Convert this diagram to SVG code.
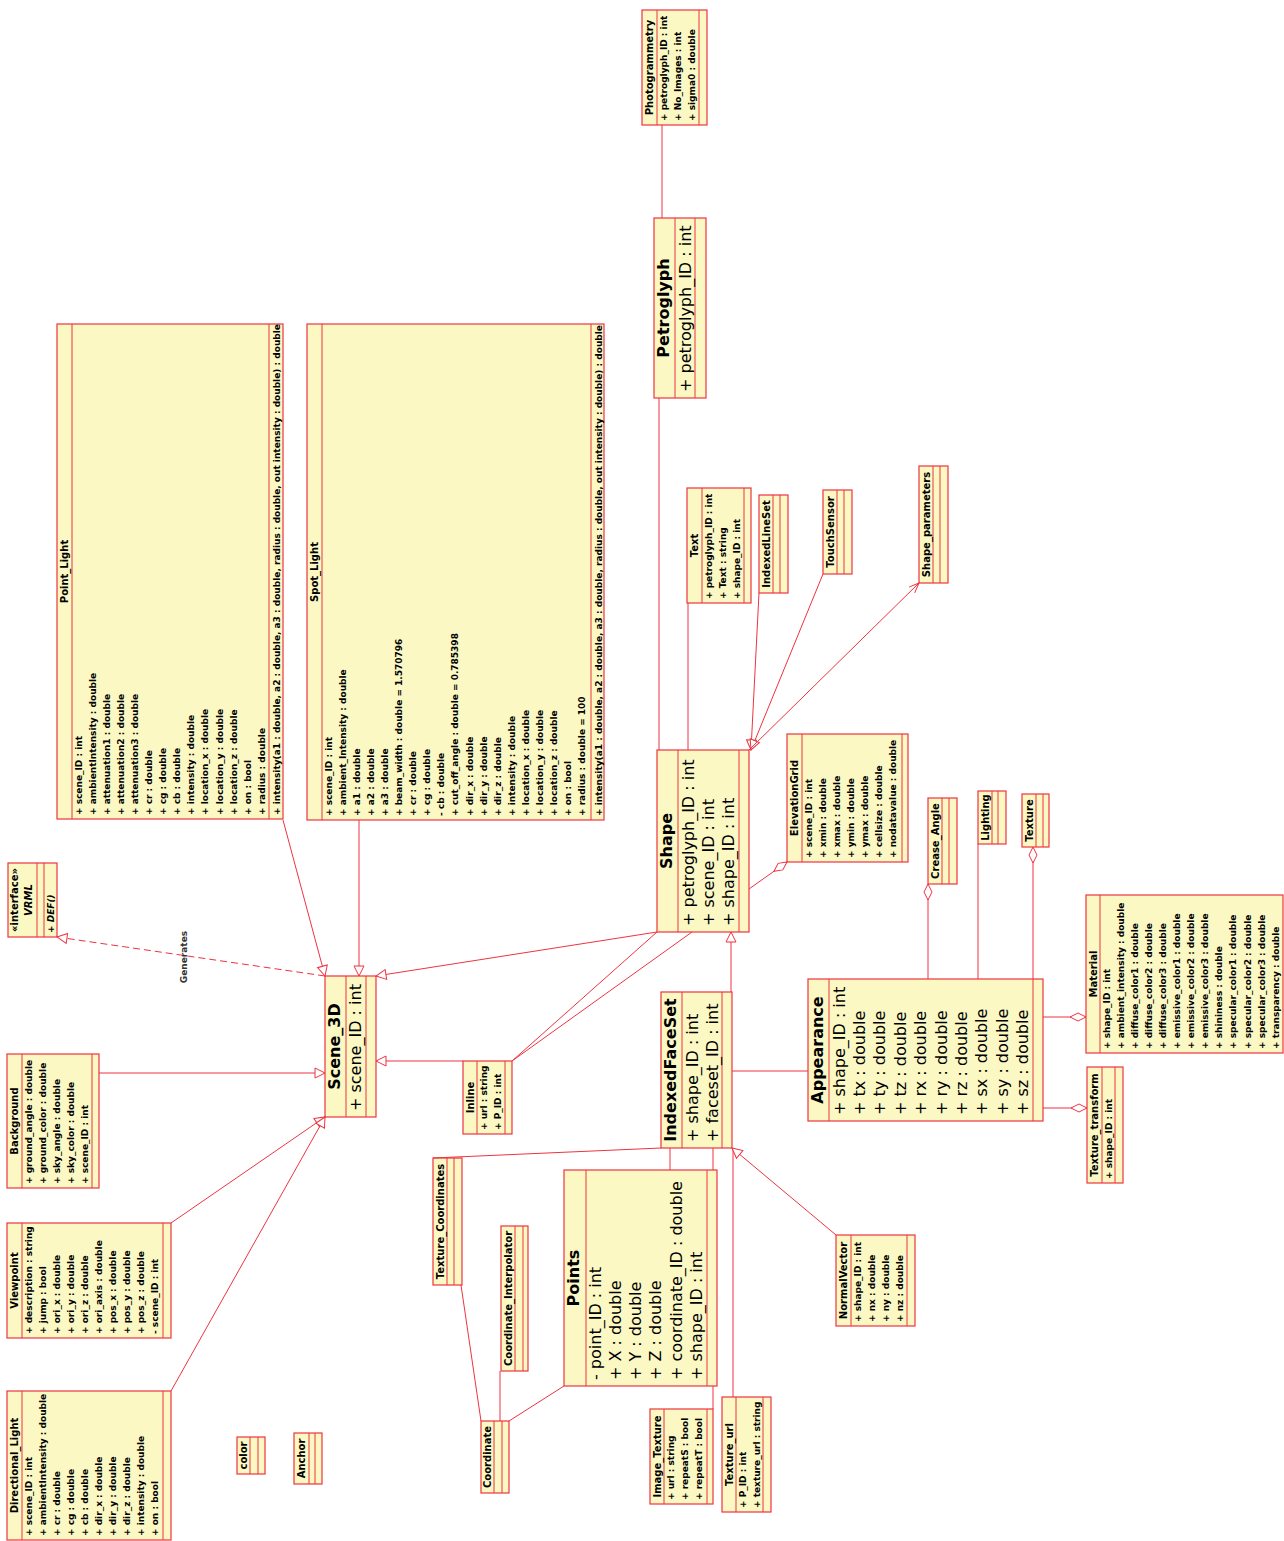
<svg xmlns="http://www.w3.org/2000/svg" width="1284" height="1541" viewBox="0 0 1284 1541">
<style>
.box{fill:#fbf8c4;stroke:#ee3340;stroke-width:1.2}
.div{stroke:#ee3340;stroke-width:1;fill:none}
.n{font-family:'DejaVu Sans',sans-serif;font-weight:bold;font-size:10px;text-anchor:middle;fill:#000}
.a{font-family:'DejaVu Sans',sans-serif;font-weight:bold;font-size:9px;fill:#000}
.N{font-family:'DejaVu Sans',sans-serif;font-weight:bold;font-size:16px;text-anchor:middle;fill:#000}
.A{font-family:'DejaVu Sans',sans-serif;font-size:16px;fill:#000}
.c{stroke:#ee3340;stroke-width:1;fill:none}
.dash{stroke-dasharray:7,4}
.lbl{font-family:'DejaVu Sans',sans-serif;font-weight:bold;font-size:9px;text-anchor:middle;fill:#333}
</style>
<defs>
<marker id="tri" viewBox="0 0 12 12" refX="11" refY="6" markerWidth="12" markerHeight="12" markerUnits="userSpaceOnUse" orient="auto"><path d="M1,1 L11,6 L1,11 z" fill="#fff" stroke="#ee3340" stroke-width="1"/></marker>
<marker id="dia" viewBox="0 0 18 10" refX="17" refY="5" markerWidth="18" markerHeight="10" markerUnits="userSpaceOnUse" orient="auto"><path d="M1,5 L9,1 L17,5 L9,9 z" fill="#fff" stroke="#ee3340" stroke-width="1"/></marker>
<marker id="arr" viewBox="0 0 12 10" refX="11" refY="5" markerWidth="12" markerHeight="10" markerUnits="userSpaceOnUse" orient="auto"><path d="M1,1 L11,5 L1,9" fill="none" stroke="#ee3340" stroke-width="1"/></marker>
</defs>
<rect width="1284" height="1541" fill="#fff"/>

<g id="nodes">
<g id="photogrammetry" transform="translate(642,125) rotate(-90)">
<rect class="box" width="115" height="65"/><path class="div" d="M0,15H115M0,57H115"/>
<text class="n" x="57.5" y="11">Photogrammetry</text>
<text class="a"><tspan x="4" y="24.5">+ petroglyph_ID : int</tspan><tspan x="4" dy="14.1">+ No_Images : int</tspan><tspan x="4" dy="14.1">+ sigma0 : double</tspan></text>
</g>
<g id="petroglyph" transform="translate(654,398) rotate(-90)">
<rect class="box" width="180" height="52"/><path class="div" d="M0,21H180M0,41H180"/>
<text class="N" x="90" y="15">Petroglyph</text>
<text class="A" x="6" y="36.5">+ petroglyph_ID : int</text>
</g>
<g id="point_light" transform="translate(57,819) rotate(-90)">
<rect class="box" width="495" height="226"/><path class="div" d="M0,15H495M0,212H495"/>
<text class="n" x="247.5" y="11">Point_Light</text>
<text class="a"><tspan x="4" y="24.5">+ scene_ID : int</tspan><tspan x="4" dy="14.1">+ ambientIntensity : double</tspan><tspan x="4" dy="14.1">+ attenuation1 : double</tspan><tspan x="4" dy="14.1">+ attenuation2 : double</tspan><tspan x="4" dy="14.1">+ attenuation3 : double</tspan><tspan x="4" dy="14.1">+ cr : double</tspan><tspan x="4" dy="14.1">+ cg : double</tspan><tspan x="4" dy="14.1">+ cb : double</tspan><tspan x="4" dy="14.1">+ intensity : double</tspan><tspan x="4" dy="14.1">+ location_x : double</tspan><tspan x="4" dy="14.1">+ location_y : double</tspan><tspan x="4" dy="14.1">+ location_z : double</tspan><tspan x="4" dy="14.1">+ on : bool</tspan><tspan x="4" dy="14.1">+ radius : double</tspan></text>
<text class="a" x="4" y="222.5">+ intensity(a1 : double, a2 : double, a3 : double, radius : double, out intensity : double) : double</text>
</g>
<g id="spot_light" transform="translate(307,820) rotate(-90)">
<rect class="box" width="496" height="297"/><path class="div" d="M0,15H496M0,284H496"/>
<text class="n" x="248" y="11">Spot_Light</text>
<text class="a"><tspan x="4" y="24.5">+ scene_ID : int</tspan><tspan x="4" dy="14.1">+ ambient_Intensity : double</tspan><tspan x="4" dy="14.1">+ a1 : double</tspan><tspan x="4" dy="14.1">+ a2 : double</tspan><tspan x="4" dy="14.1">+ a3 : double</tspan><tspan x="4" dy="14.1">+ beam_width : double = 1.570796</tspan><tspan x="4" dy="14.1">+ cr : double</tspan><tspan x="4" dy="14.1">+ cg : double</tspan><tspan x="4" dy="14.1">- cb : double</tspan><tspan x="4" dy="14.1">+ cut_off_angle : double = 0.785398</tspan><tspan x="4" dy="14.1">+ dir_x : double</tspan><tspan x="4" dy="14.1">+ dir_y : double</tspan><tspan x="4" dy="14.1">+ dir_z : double</tspan><tspan x="4" dy="14.1">+ intensity : double</tspan><tspan x="4" dy="14.1">+ location_x : double</tspan><tspan x="4" dy="14.1">+ location_y : double</tspan><tspan x="4" dy="14.1">+ location_z : double</tspan><tspan x="4" dy="14.1">+ on : bool</tspan><tspan x="4" dy="14.1">+ radius : double = 100</tspan></text>
<text class="a" x="4" y="294.5">+ intensity(a1 : double, a2 : double, a3 : double, radius : double, out intensity : double) : double</text>
</g>
<g id="text" transform="translate(687,603) rotate(-90)">
<rect class="box" width="115" height="64"/><path class="div" d="M0,15H115M0,57H115"/>
<text class="n" x="57.5" y="11">Text</text>
<text class="a"><tspan x="4" y="24.5">+ petroglyph_ID : int</tspan><tspan x="4" dy="14.1">+ Text : string</tspan><tspan x="4" dy="14.1">+ shape_ID : int</tspan></text>
</g>
<g id="indexedlineset" transform="translate(759,593) rotate(-90)">
<rect class="box" width="98" height="29"/><path class="div" d="M0,14H98M0,21H98"/>
<text class="n" x="49" y="10.5">IndexedLineSet</text>
</g>
<g id="touchsensor" transform="translate(823,574) rotate(-90)">
<rect class="box" width="84" height="29"/><path class="div" d="M0,14H84M0,21H84"/>
<text class="n" x="42" y="10.5">TouchSensor</text>
</g>
<g id="shape_parameters" transform="translate(919,583) rotate(-90)">
<rect class="box" width="117" height="29"/><path class="div" d="M0,14H117M0,21H117"/>
<text class="n" x="58.5" y="10.5">Shape_parameters</text>
</g>
<g id="shape" transform="translate(657,932) rotate(-90)">
<rect class="box" width="182" height="92"/><path class="div" d="M0,21H182M0,82H182"/>
<text class="N" x="91" y="15">Shape</text>
<text class="A"><tspan x="6" y="36.5">+ petroglyph_ID : int</tspan><tspan x="6" dy="20.3">+ scene_ID : int</tspan><tspan x="6" dy="20.3">+ shape_ID : int</tspan></text>
</g>
<g id="elevationgrid" transform="translate(787,862) rotate(-90)">
<rect class="box" width="128" height="121"/><path class="div" d="M0,15H128M0,115H128"/>
<text class="n" x="64" y="11">ElevationGrid</text>
<text class="a"><tspan x="4" y="24.5">+ scene_ID : int</tspan><tspan x="4" dy="14.1">+ xmin : double</tspan><tspan x="4" dy="14.1">+ xmax : double</tspan><tspan x="4" dy="14.1">+ ymin : double</tspan><tspan x="4" dy="14.1">+ ymax : double</tspan><tspan x="4" dy="14.1">+ cellsize : double</tspan><tspan x="4" dy="14.1">+ nodatavalue : double</tspan></text>
</g>
<g id="vrml" transform="translate(8,937) rotate(-90)">
<rect class="box" width="74" height="49"/><path class="div" d="M0,29H74M0,36H74"/>
<text class="n" x="37" y="10">«interface»</text>
<text class="n" x="37" y="24" font-style="italic">VRML</text>
<text class="a" x="4" y="46" font-style="italic">+ DEF()</text>
</g>
<g id="scene_3d" transform="translate(325,1117) rotate(-90)">
<rect class="box" width="141" height="51"/><path class="div" d="M0,21H141M0,41H141"/>
<text class="N" x="70.5" y="14.5">Scene_3D</text>
<text class="A" x="6" y="36">+ scene_ID : int</text>
</g>
<g id="background" transform="translate(7,1188) rotate(-90)">
<rect class="box" width="134" height="92"/><path class="div" d="M0,15H134M0,85H134"/>
<text class="n" x="67" y="11">Background</text>
<text class="a"><tspan x="4" y="24.5">+ ground_angle : double</tspan><tspan x="4" dy="14.1">+ ground_color : double</tspan><tspan x="4" dy="14.1">+ sky_angle : double</tspan><tspan x="4" dy="14.1">+ sky_color : double</tspan><tspan x="4" dy="14.1">+ scene_ID : int</tspan></text>
</g>
<g id="viewpoint" transform="translate(7,1338) rotate(-90)">
<rect class="box" width="115" height="164"/><path class="div" d="M0,15H115M0,156H115"/>
<text class="n" x="57.5" y="11">Viewpoint</text>
<text class="a"><tspan x="4" y="24.5">+ description : string</tspan><tspan x="4" dy="14.1">+ jump : bool</tspan><tspan x="4" dy="14.1">+ ori_x : double</tspan><tspan x="4" dy="14.1">+ ori_y : double</tspan><tspan x="4" dy="14.1">+ ori_z : double</tspan><tspan x="4" dy="14.1">+ ori_axis : double</tspan><tspan x="4" dy="14.1">+ pos_x : double</tspan><tspan x="4" dy="14.1">+ pos_y : double</tspan><tspan x="4" dy="14.1">+ pos_z : double</tspan><tspan x="4" dy="14.1">- scene_ID : int</tspan></text>
</g>
<g id="directional_light" transform="translate(7,1540) rotate(-90)">
<rect class="box" width="149" height="164"/><path class="div" d="M0,15H149M0,156H149"/>
<text class="n" x="74.5" y="11">Directional_Light</text>
<text class="a"><tspan x="4" y="24.5">+ scene_ID : int</tspan><tspan x="4" dy="14.1">+ ambientIntensity : double</tspan><tspan x="4" dy="14.1">+ cr : double</tspan><tspan x="4" dy="14.1">+ cg : double</tspan><tspan x="4" dy="14.1">+ cb : double</tspan><tspan x="4" dy="14.1">+ dir_x : double</tspan><tspan x="4" dy="14.1">+ dir_y : double</tspan><tspan x="4" dy="14.1">+ dir_z : double</tspan><tspan x="4" dy="14.1">+ intensity : double</tspan><tspan x="4" dy="14.1">+ on : bool</tspan></text>
</g>
<g id="color" transform="translate(237,1474) rotate(-90)">
<rect class="box" width="37" height="28"/><path class="div" d="M0,13H37M0,21H37"/>
<text class="n" x="18.5" y="10">color</text>
</g>
<g id="anchor" transform="translate(294,1484) rotate(-90)">
<rect class="box" width="51" height="28"/><path class="div" d="M0,15H51M0,21H51"/>
<text class="n" x="25.5" y="11">Anchor</text>
</g>
<g id="inline" transform="translate(463,1134) rotate(-90)">
<rect class="box" width="73" height="49"/><path class="div" d="M0,14H73M0,42H73"/>
<text class="n" x="36.5" y="10.5">Inline</text>
<text class="a"><tspan x="4" y="23.5">+ url : string</tspan><tspan x="4" dy="14.1">+ P_ID : int</tspan></text>
</g>
<g id="texture_coordinates" transform="translate(433,1285) rotate(-90)">
<rect class="box" width="127" height="29"/><path class="div" d="M0,14H127M0,21H127"/>
<text class="n" x="63.5" y="10.5">Texture_Coordinates</text>
</g>
<g id="coordinate_interpolator" transform="translate(501,1371) rotate(-90)">
<rect class="box" width="145" height="27"/><path class="div" d="M0,14H145M0,22H145"/>
<text class="n" x="72.5" y="10.5">Coordinate_Interpolator</text>
</g>
<g id="coordinate" transform="translate(481,1493) rotate(-90)">
<rect class="box" width="72" height="28"/><path class="div" d="M0,13H72M0,21H72"/>
<text class="n" x="36" y="10">Coordinate</text>
</g>
<g id="indexedfaceset" transform="translate(661,1148) rotate(-90)">
<rect class="box" width="156" height="71"/><path class="div" d="M0,21H156M0,61H156"/>
<text class="N" x="78" y="15">IndexedFaceSet</text>
<text class="A"><tspan x="6" y="36.5">+ shape_ID : int</tspan><tspan x="6" dy="20.3">+ faceset_ID : int</tspan></text>
</g>
<g id="points" transform="translate(564,1386) rotate(-90)">
<rect class="box" width="216" height="153"/><path class="div" d="M0,22H216M0,143H216"/>
<text class="N" x="108" y="15">Points</text>
<text class="A"><tspan x="6" y="36.5">- point_ID : int</tspan><tspan x="6" dy="20.3">+ X : double</tspan><tspan x="6" dy="20.3">+ Y : double</tspan><tspan x="6" dy="20.3">+ Z : double</tspan><tspan x="6" dy="20.3">+ coordinate_ID : double</tspan><tspan x="6" dy="20.3">+ shape_ID : int</tspan></text>
</g>
<g id="image_texture" transform="translate(650,1504) rotate(-90)">
<rect class="box" width="95" height="63"/><path class="div" d="M0,14H95M0,57H95"/>
<text class="n" x="47.5" y="10.5">Image_Texture</text>
<text class="a"><tspan x="4" y="23.5">+ url : string</tspan><tspan x="4" dy="14.1">+ repeatS : bool</tspan><tspan x="4" dy="14.1">+ repeatT : bool</tspan></text>
</g>
<g id="texture_url" transform="translate(722,1512) rotate(-90)">
<rect class="box" width="115" height="49"/><path class="div" d="M0,14H115M0,41H115"/>
<text class="n" x="57.5" y="10.5">Texture_url</text>
<text class="a"><tspan x="4" y="23.5">+ P_ID : int</tspan><tspan x="4" dy="14.1">+ texture_url : string</tspan></text>
</g>
<g id="normalvector" transform="translate(836,1326) rotate(-90)">
<rect class="box" width="91" height="79"/><path class="div" d="M0,15H91M0,71H91"/>
<text class="n" x="45.5" y="11">NormalVector</text>
<text class="a"><tspan x="4" y="24.5">+ shape_ID : int</tspan><tspan x="4" dy="14.1">+ nx : double</tspan><tspan x="4" dy="14.1">+ ny : double</tspan><tspan x="4" dy="14.1">+ nz : double</tspan></text>
</g>
<g id="appearance" transform="translate(808,1121) rotate(-90)">
<rect class="box" width="142" height="235"/><path class="div" d="M0,21H142M0,225H142"/>
<text class="N" x="71" y="15">Appearance</text>
<text class="A"><tspan x="6" y="36.5">+ shape_ID : int</tspan><tspan x="6" dy="20.4">+ tx : double</tspan><tspan x="6" dy="20.4">+ ty : double</tspan><tspan x="6" dy="20.4">+ tz : double</tspan><tspan x="6" dy="20.4">+ rx : double</tspan><tspan x="6" dy="20.4">+ ry : double</tspan><tspan x="6" dy="20.4">+ rz : double</tspan><tspan x="6" dy="20.4">+ sx : double</tspan><tspan x="6" dy="20.4">+ sy : double</tspan><tspan x="6" dy="20.4">+ sz : double</tspan></text>
</g>
<g id="crease_angle" transform="translate(928,884) rotate(-90)">
<rect class="box" width="86" height="29"/><path class="div" d="M0,14H86M0,21H86"/>
<text class="n" x="43" y="10.5">Crease_Angle</text>
</g>
<g id="lighting" transform="translate(978,844) rotate(-90)">
<rect class="box" width="53" height="28"/><path class="div" d="M0,14H53M0,20H53"/>
<text class="n" x="26.5" y="10.5">Lighting</text>
</g>
<g id="texture" transform="translate(1022,847) rotate(-90)">
<rect class="box" width="53" height="27"/><path class="div" d="M0,14H53M0,21H53"/>
<text class="n" x="26.5" y="10.5">Texture</text>
</g>
<g id="material" transform="translate(1086,1053) rotate(-90)">
<rect class="box" width="158" height="197"/><path class="div" d="M0,14H158"/>
<text class="n" x="79" y="10.5">Material</text>
<text class="a"><tspan x="4" y="23.5">+ shape_ID : int</tspan><tspan x="4" dy="14.1">+ ambient_intensity : double</tspan><tspan x="4" dy="14.1">+ diffuse_color1 : double</tspan><tspan x="4" dy="14.1">+ diffuse_color2 : double</tspan><tspan x="4" dy="14.1">+ diffuse_color3 : double</tspan><tspan x="4" dy="14.1">+ emissive_color1 : double</tspan><tspan x="4" dy="14.1">+ emissive_color2 : double</tspan><tspan x="4" dy="14.1">+ emissive_color3 : double</tspan><tspan x="4" dy="14.1">+ shininess : double</tspan><tspan x="4" dy="14.1">+ specular_color1 : double</tspan><tspan x="4" dy="14.1">+ specular_color2 : double</tspan><tspan x="4" dy="14.1">+ specular_color3 : double</tspan><tspan x="4" dy="14.1">+ transparency : double</tspan></text>
</g>
<g id="texture_transform" transform="translate(1087,1183) rotate(-90)">
<rect class="box" width="116" height="36"/><path class="div" d="M0,15H116M0,28H116"/>
<text class="n" x="58" y="11">Texture_transform</text>
<text class="a" x="4" y="24.5">+ shape_ID : int</text>
</g>
</g>

<g id="connectors">
<path class="c" d="M662,125 L662,218"/>
<path class="c" d="M659,398 L659,750"/>
<path class="c" d="M688,603 L688,750"/>
<path class="c" d="M759,593 L751,750" marker-end="url(#tri)"/>
<path class="c" d="M823,574 L751,750" marker-end="url(#tri)"/>
<path class="c" d="M749,750 L919,583" marker-end="url(#arr)"/>
<path class="c" d="M749,889 L787,862" marker-end="url(#dia)"/>
<path class="c" d="M657,932 L376,976" marker-end="url(#tri)"/>
<path class="c" d="M512,1061 L657,932"/>
<path class="c" d="M512,1061 L692,932"/>
<path class="c" d="M463,1061 L376,1061" marker-end="url(#tri)"/>
<path class="c" d="M283,820 L325,976" marker-end="url(#tri)"/>
<path class="c" d="M359,820 L359,976" marker-end="url(#tri)"/>
<path class="c dash" d="M325,976 L57,937" marker-end="url(#tri)"/>
<path class="c" d="M99,1073 L325,1073" marker-end="url(#tri)"/>
<path class="c" d="M171,1223 L325,1117" marker-end="url(#tri)"/>
<path class="c" d="M171,1391 L325,1117" marker-end="url(#tri)"/>
<path class="c" d="M731,992 L731,932" marker-end="url(#tri)"/>
<path class="c" d="M732,1071 L808,1071"/>
<path class="c" d="M661,1148 L433,1158"/>
<path class="c" d="M461,1285 L481,1421"/>
<path class="c" d="M500,1371 L500,1421"/>
<path class="c" d="M509,1421 L564,1386"/>
<path class="c" d="M670,1148 L670,1170"/>
<path class="c" d="M713,1148 L713,1170"/>
<path class="c" d="M713,1386 L713,1409"/>
<path class="c" d="M733,1148 L733,1397"/>
<path class="c" d="M836,1235 L732,1148" marker-end="url(#tri)"/>
<path class="c" d="M928,979 L928,884" marker-end="url(#dia)"/>
<path class="c" d="M978,979 L978,844"/>
<path class="c" d="M1033,979 L1033,847" marker-end="url(#dia)"/>
<path class="c" d="M1043,1017 L1086,1017" marker-end="url(#dia)"/>
<path class="c" d="M1043,1108 L1087,1108" marker-end="url(#dia)"/>
<text class="lbl" transform="translate(187,957) rotate(-90)">Generates</text>
</g>
</svg>
